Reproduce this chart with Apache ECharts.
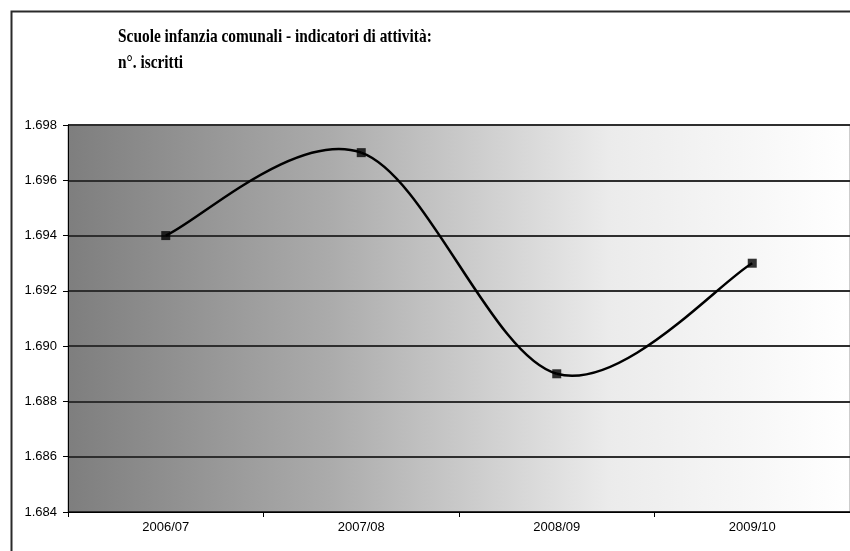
<!DOCTYPE html>
<html>
<head>
<meta charset="utf-8">
<script src="https://cdn.jsdelivr.net/npm/echarts@6/dist/echarts.min.js"></script>
<style>
html,body{margin:0;padding:0;background:#fff;}
#chart{width:850px;height:551px;}
</style>
</head>
<body>
<div id="chart"></div>
<script>
const titleLines = ['Scuole infanzia comunali - indicatori di attività:', 'n°. iscritti'];
const categories = ['2006/07', '2007/08', '2008/09', '2009/10'];
const iscritti = [1694, 1697, 1689, 1693];
const yMin = 1684, yMax = 1698, yStep = 2;

function fmtIt(v) {
  const s = String(Math.round(v));
  return s.replace(/\B(?=(\d{3})+(?!\d))/g, '.');
}

// Excel-style smoothed line: cubic Bezier segments through the data points (pixel coords from the axes)
function renderSmooth(params, api) {
  if (params.dataIndex !== 0) return null;
  const pts = iscritti.map((v, i) => api.coord([i, v]));
  const n = pts.length;
  const P = i => pts[Math.max(0, Math.min(n - 1, i))];
  const children = [];
  for (let i = 0; i < n - 1; i++) {
    const p0 = P(i - 1), p1 = P(i), p2 = P(i + 1), p3 = P(i + 2);
    children.push({
      type: 'bezierCurve',
      shape: {
        x1: p1[0], y1: p1[1],
        cpx1: p1[0] + (p2[0] - p0[0]) / 6, cpy1: p1[1] + (p2[1] - p0[1]) / 6,
        cpx2: p2[0] - (p3[0] - p1[0]) / 6, cpy2: p2[1] - (p3[1] - p1[1]) / 6,
        x2: p2[0], y2: p2[1]
      },
      style: {fill: null, stroke: '#000', lineWidth: 2.5}
    });
  }
  return {type: 'group', children: children};
}

const chart = echarts.init(document.getElementById('chart'), null, {renderer: 'canvas'});
chart.setOption({
  animation: false,
  backgroundColor: '#ffffff',
  graphic: [
    {type: 'rect', left: 9, top: 9, shape: {width: 860, height: 560},
     style: {fill: 'none', stroke: '#2a2a2a', lineWidth: 2}, z: 100},
    {type: 'text', left: 118, top: 28, scaleX: 0.81,
     style: {text: titleLines[0], font: 'bold 19px "Liberation Serif", serif', fill: '#000'}},
    {type: 'text', left: 118, top: 54, scaleX: 0.81,
     style: {text: titleLines[1], font: 'bold 19px "Liberation Serif", serif', fill: '#000'}}
  ],
  grid: {
    left: 68, top: 125, width: 785, height: 387,
    show: true,
    backgroundColor: new echarts.graphic.LinearGradient(0, 0, 1, 0, [
      {offset: 0, color: '#7e7e7e'},
      {offset: 0.334, color: '#ababab'},
      {offset: 0.69, color: '#ebebeb'},
      {offset: 1, color: '#ffffff'}
    ]),
    borderColor: '#9a9a9a', borderWidth: 1
  },
  xAxis: {
    type: 'category', data: categories, boundaryGap: true,
    axisLine: {show: true, lineStyle: {color: '#000', width: 1}},
    axisTick: {show: true, length: 5, alignWithLabel: false, lineStyle: {color: '#000'}},
    axisLabel: {color: '#000', fontFamily: 'Liberation Sans, Arial, sans-serif', fontSize: 13, margin: 9},
    splitLine: {show: false}
  },
  yAxis: {
    type: 'value', min: yMin, max: yMax, interval: yStep,
    axisLine: {show: true, lineStyle: {color: '#000', width: 1}},
    axisTick: {show: true, length: 5, lineStyle: {color: '#000'}},
    axisLabel: {color: '#000', fontFamily: 'Liberation Sans, Arial, sans-serif', fontSize: 13, margin: 11,
      formatter: fmtIt},
    splitLine: {show: true, lineStyle: {color: '#2e2e2e', width: 2}}
  },
  series: [
    {
      type: 'custom', coordinateSystem: 'cartesian2d',
      data: iscritti.map((v, i) => [i, v]),
      encode: {x: 0, y: 1},
      renderItem: renderSmooth, z: 3
    },
    {
      type: 'scatter', data: iscritti.map((v, i) => [i, v]),
      symbol: 'rect', symbolSize: 9,
      itemStyle: {color: '#000'}, z: 4
    }
  ]
});
</script>
</body>
</html>
